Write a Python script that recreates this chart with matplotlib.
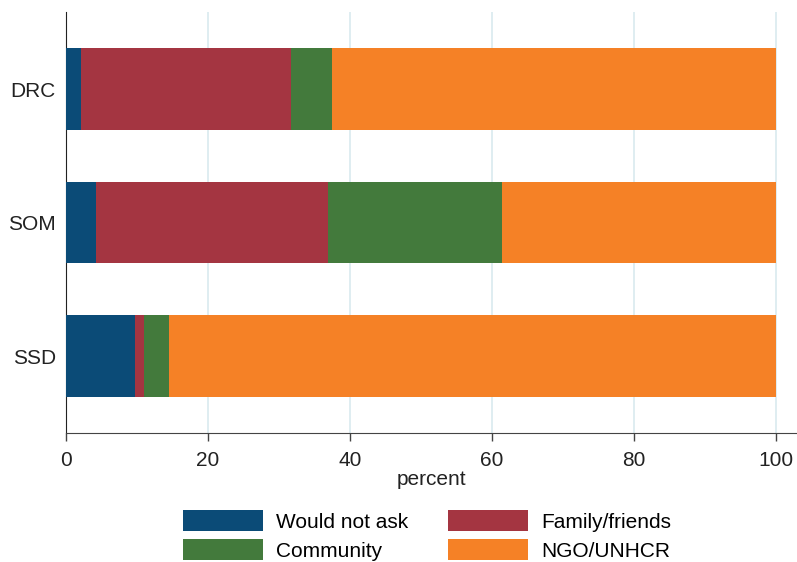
import numpy as np
import matplotlib
matplotlib.use("Agg")
import matplotlib.pyplot as plt

plt.rcParams['font.family'] = ['Liberation Sans', 'DejaVu Sans']

# Data (percent)
countries = ["DRC", "SOM", "SSD"]
categories = ["Would not ask", "Family/friends", "Community", "NGO/UNHCR"]
would_not_ask = [2.1, 4.2, 9.7]
family_friends = [29.7, 32.7, 1.3]
community = [5.7, 24.6, 3.6]
ngo_unhcr = [62.5, 38.5, 85.4]

colors = ["#0b4b77", "#a43541", "#437a3c", "#f58126"]

fig = plt.figure(figsize=(7.97, 5.62), dpi=100)
ax = fig.add_axes([65.7 / 797, 1 - 433.3 / 562, 731.3 / 797, 421.3 / 562])

series = [would_not_ask, family_friends, community, ngo_unhcr]
ypos = np.arange(len(countries))
left = np.zeros(len(countries))
bars = []
for vals, lab, col in zip(series, categories, colors):
    b = ax.barh(ypos, vals, left=left, height=0.61, color=col, label=lab,
                edgecolor='none', zorder=3)
    bars.append(b)
    left += np.array(vals)

ax.set_ylim(2.577, -0.577)
ax.set_xlim(0, 103.0)
ax.set_yticks(ypos)
ax.set_yticklabels(countries)
ax.set_xticks([0, 20, 40, 60, 80, 100])

for x in [20, 40, 60, 80, 100]:
    ax.axvline(x, color="#dcecf0", lw=1.3, zorder=1)

for s in ['top', 'right']:
    ax.spines[s].set_visible(False)
ax.spines['left'].set_color('#222222')
ax.spines['bottom'].set_color('#444444')
ax.tick_params(axis='y', length=0, pad=7, labelsize=15, colors='#222222')
ax.tick_params(axis='x', length=6, width=1, pad=7, labelsize=15,
               color='#444444', labelcolor='#222222')
ax.set_xlabel("percent", fontsize=15, labelpad=0, color='#222222')

# legend filled row by row, like the reference
order = [0, 2, 1, 3]
fig.legend([bars[i] for i in order], [categories[i] for i in order],
           loc='upper left', bbox_to_anchor=(183 / 797, 1 - 510 / 562),
           ncol=2, frameon=False, fontsize=15, handlelength=3.85,
           handleheight=1.2, handletextpad=0.62, columnspacing=1.9,
           labelspacing=0.35, borderpad=0, borderaxespad=0)

fig.savefig("out.png", dpi=100)
